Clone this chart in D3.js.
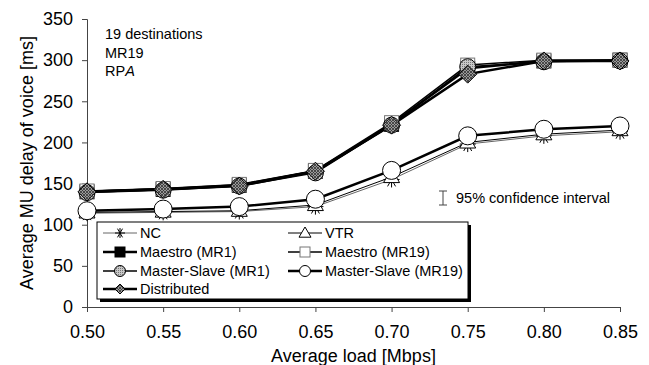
<!DOCTYPE html>
<html>
<head>
<meta charset="utf-8">
<script src="https://cdn.jsdelivr.net/npm/d3@7"></script>
<style>
  body { margin: 0; background: #fff; }
  svg { font-family: "Liberation Sans", Arial, sans-serif; }
</style>
</head>
<body>
<svg id="chart" width="649" height="365"></svg>
<script>
// data
const loads = [0.50, 0.55, 0.60, 0.65, 0.70, 0.75, 0.80, 0.85];
const xTicks = [0.50, 0.55, 0.60, 0.65, 0.70, 0.75, 0.80, 0.85];
const yTicks = [0, 50, 100, 150, 200, 250, 300, 350];

const nc          = [114, 115, 116, 122, 155, 198, 208, 213];
const vtr         = [115, 116, 117, 124, 158, 200, 210, 215];
const maestroMR1  = [140, 143, 148, 165, 222, 290, 299, 300];
const maestroMR19 = [141, 144, 149, 166, 224, 294, 300, 300];
const msMR1       = [139, 142, 147, 163, 221, 292, 298, 299];
const msMR19      = [117, 119, 122, 131, 166, 208, 216, 220];
const distributed = [140, 143, 147, 165, 221, 283, 299, 299];

const series = [
  { name: "NC", values: nc, marker: "star", lw: 1, stroke: "#666" },
  { name: "VTR", values: vtr, marker: "triangle", lw: 1, stroke: "#000" },
  { name: "Maestro (MR1)", values: maestroMR1, marker: "square", fill: "#000", lw: 2.5, stroke: "#000" },
  { name: "Maestro (MR19)", values: maestroMR19, marker: "square", fill: "#fff", lw: 1.5, stroke: "#000", mstroke: "#777" },
  { name: "Master-Slave (MR1)", values: msMR1, marker: "circle", fill: "url(#dots)", lw: 1.5, stroke: "#000" },
  { name: "Master-Slave (MR19)", values: msMR19, marker: "circle", fill: "#fff", lw: 2.5, stroke: "#000" },
  { name: "Distributed", values: distributed, marker: "diamond", fill: "url(#hatch)", lw: 2.5, stroke: "#000" }
];

const svg = d3.select("#chart");
const margin = { top: 19, right: 29, bottom: 58, left: 87 };
const W = 649, H = 365;

const x = d3.scaleLinear().domain([0.50, 0.85]).range([margin.left, W - margin.right]);
const y = d3.scaleLinear().domain([0, 350]).range([H - margin.bottom, margin.top]);

// fill patterns
const defs = svg.append("defs");
const hatch = defs.append("pattern").attr("id", "hatch").attr("patternUnits", "userSpaceOnUse")
  .attr("width", 3).attr("height", 3);
hatch.append("rect").attr("width", 3).attr("height", 3).attr("fill", "#9a9a9a");
hatch.append("path").attr("d", "M0,0L3,3M3,0L0,3").attr("stroke", "#333").attr("stroke-width", 0.8);
const dots = defs.append("pattern").attr("id", "dots").attr("patternUnits", "userSpaceOnUse")
  .attr("width", 2).attr("height", 2);
dots.append("rect").attr("width", 2).attr("height", 2).attr("fill", "#c8c8c8");
dots.append("rect").attr("width", 1).attr("height", 1).attr("fill", "#777");

// axes
svg.append("g")
  .attr("transform", `translate(0,${y(0)})`)
  .call(d3.axisBottom(x).tickValues(xTicks).tickFormat(d3.format(".2f")).tickSize(5).tickPadding(13))
  .call(g => g.selectAll("text").attr("font-size", 18).attr("fill", "#000"))
  .call(g => g.selectAll("line, path").attr("stroke", "#444"));

svg.append("g")
  .attr("transform", `translate(${margin.left},0)`)
  .call(d3.axisLeft(y).tickValues(yTicks).tickSize(5).tickPadding(9))
  .call(g => g.selectAll("text").attr("font-size", 18).attr("fill", "#000"))
  .call(g => g.selectAll("line, path").attr("stroke", "#444"));

svg.append("text")
  .attr("x", (margin.left + W - margin.right) / 2)
  .attr("y", H - 3)
  .attr("text-anchor", "middle")
  .attr("font-size", 18)
  .text("Average load [Mbps]");

svg.append("text")
  .attr("transform", "rotate(-90)")
  .attr("x", -(y(0) + y(350)) / 2)
  .attr("y", 33)
  .attr("text-anchor", "middle")
  .attr("font-size", 18)
  .text("Average MU delay of voice [ms]");

// annotation
const note = svg.append("g").attr("font-size", 14.5);
note.append("text").attr("x", 105).attr("y", 39).text("19 destinations");
note.append("text").attr("x", 105).attr("y", 58).text("MR19");
const rpa = note.append("text").attr("x", 105).attr("y", 76);
rpa.append("tspan").text("RP");
rpa.append("tspan").attr("font-style", "italic").text("A");

// confidence interval key
const ci = svg.append("g").attr("stroke", "#444").attr("stroke-width", 1);
ci.append("line").attr("x1", 443).attr("x2", 443).attr("y1", 191).attr("y2", 205);
ci.append("line").attr("x1", 439).attr("x2", 447).attr("y1", 191).attr("y2", 191);
ci.append("line").attr("x1", 439).attr("x2", 447).attr("y1", 205).attr("y2", 205);
svg.append("text").attr("x", 456).attr("y", 203).attr("font-size", 14.5).text("95% confidence interval");

function drawMarker(g, s, cx, cy, big) {
  const sz = big ? 7 : 5;
  if (s.marker === "star") {
    const r = big ? 8 : 5;
    for (let a = 0; a < 3; a++) {
      const ang = a * Math.PI / 3;
      g.append("line")
        .attr("x1", cx - r * Math.cos(ang)).attr("y1", cy - r * Math.sin(ang))
        .attr("x2", cx + r * Math.cos(ang)).attr("y2", cy + r * Math.sin(ang))
        .attr("stroke", "#000").attr("stroke-width", 1);
    }
    g.append("line").attr("x1", cx).attr("x2", cx).attr("y1", cy - r).attr("y2", cy + r)
      .attr("stroke", "#000").attr("stroke-width", 1);
  } else if (s.marker === "triangle") {
    const r = big ? 8 : 6;
    g.append("path")
      .attr("d", `M${cx},${cy - r}L${cx + r},${cy + r * 0.7}L${cx - r},${cy + r * 0.7}Z`)
      .attr("fill", "#fff").attr("stroke", "#000").attr("stroke-width", 1);
  } else if (s.marker === "square") {
    g.append("rect").attr("x", cx - sz).attr("y", cy - sz).attr("width", 2 * sz).attr("height", 2 * sz)
      .attr("fill", s.fill).attr("stroke", s.mstroke || "#000").attr("stroke-width", 1);
  } else if (s.marker === "circle") {
    const r = big ? (s.fill === "#fff" ? 9 : 8) : 5.5;
    g.append("circle").attr("cx", cx).attr("cy", cy).attr("r", r)
      .attr("fill", s.fill).attr("stroke", "#000").attr("stroke-width", 1);
  } else if (s.marker === "diamond") {
    const r = big ? 9 : 5;
    g.append("path")
      .attr("d", `M${cx},${cy - r}L${cx + r},${cy}L${cx},${cy + r}L${cx - r},${cy}Z`)
      .attr("fill", s.fill).attr("stroke", "#000").attr("stroke-width", 1);
  }
}

// lines
const line = d3.line().x((d, i) => x(loads[i])).y(d => y(d));
const plot = svg.append("g");
series.forEach(s => {
  plot.append("path").datum(s.values)
    .attr("d", line).attr("fill", "none")
    .attr("stroke", s.stroke).attr("stroke-width", s.lw);
});
series.forEach(s => {
  const g = plot.append("g");
  s.values.forEach((v, i) => drawMarker(g, s, x(loads[i]), y(v), true));
});

// legend
const lg = svg.append("g");
const lx = 97, ly = 222, lw = 371, lh = 77;
lg.append("rect").attr("x", lx + 3).attr("y", ly + 3).attr("width", lw).attr("height", lh).attr("fill", "#000");
lg.append("rect").attr("x", lx).attr("y", ly).attr("width", lw).attr("height", lh)
  .attr("fill", "#fff").attr("stroke", "#000").attr("stroke-width", 1);
const cols = [103, 288], rows = [233, 252, 271, 289];
series.forEach((s, i) => {
  const cx = cols[i % 2], cy = rows[Math.floor(i / 2)];
  const g = lg.append("g");
  g.append("line").attr("x1", cx).attr("x2", cx + 34).attr("y1", cy).attr("y2", cy)
    .attr("stroke", s.stroke).attr("stroke-width", s.lw);
  drawMarker(g, s, cx + 17, cy, false);
  g.append("text").attr("x", cx + 37).attr("y", cy + 5).attr("font-size", 14.5).text(s.name);
});
</script>
</body>
</html>
